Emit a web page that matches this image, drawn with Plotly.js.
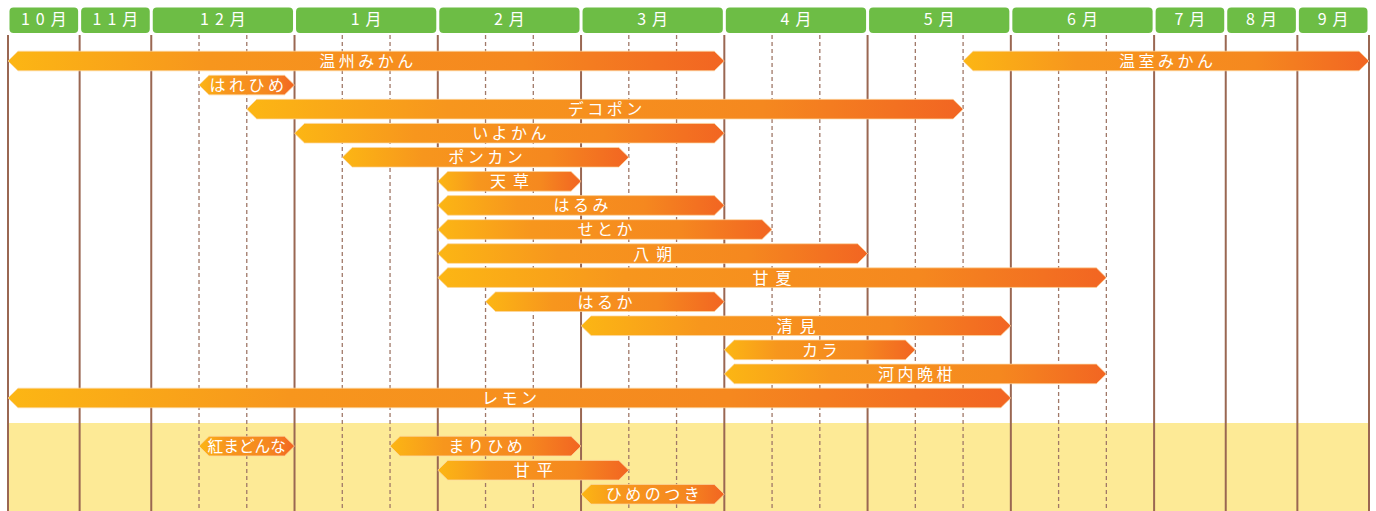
<!DOCTYPE html>
<html>
<head>
<meta charset="utf-8">
<script src="https://cdn.plot.ly/plotly-3.0.1.min.js"></script>
<style>html,body{margin:0;padding:0;background:#fff;}#chart{width:1376px;height:511px;}</style>
</head>
<body>
<div id="chart"></div>
<script>
// ---- data ----
const months = ['10月','11月','12月','1月','2月','3月','4月','5月','6月','7月','8月','9月'];
const monthSplit = [false,false,true,true,true,true,true,true,true,false,false,false]; // divided into 上・中・下旬
const varieties = ['温州みかん','温室みかん','はれひめ','デコポン','いよかん','ポンカン','天草','はるみ','せとか','八朔','甘夏','はるか','清見','カラ','河内晩柑','レモン','紅まどんな','まりひめ','甘平','ひめのつき'];
const fromPeriod = ['10月','5月下','12月中','12月下','1月上','1月中','2月上','2月上','2月上','2月上','2月上','2月中','3月上','4月上','4月上','10月','12月中','1月下','2月上','3月上'];
const toPeriod   = ['3月下','9月','12月下','5月中','3月下','3月上','2月下','3月下','4月上','4月下','6月中','3月下','5月下','5月上','6月中','5月下','12月下','2月下','3月上','3月下'];
const rowIndex   = [0,0,1,2,3,4,5,6,7,8,9,10,11,12,13,14,16,16,17,18];
const newSectionRow = 15; // yellow section starts here

// ---- scale ----
const NARROW = 3, PART = 2;
const pStart = {}, pEnd = {}, solid = [], dashed = [], mStart = [], mEnd = [];
let cx = 0;
months.forEach((m, i) => {
  solid.push(cx); mStart.push(cx);
  if (monthSplit[i]) {
    ['上','中','下'].forEach((p, j) => {
      pStart[m + p] = cx; cx += PART; pEnd[m + p] = cx;
      if (j < 2) dashed.push(cx);
    });
  } else {
    pStart[m] = cx; cx += NARROW; pEnd[m] = cx;
  }
  mEnd.push(cx);
});
solid.push(cx);
const total = cx;

const W = 1376, H = 511;
const pxPerX = 1361 / total;
const xMin = -8 / pxPerX, xMax = xMin + W / pxPerX;
const rowPx = 24.07, row0Px = 61;
const yTop = -row0Px / rowPx, yBot = (H - row0Px) / rowPx;
const tip = 10 / pxPerX, half = 9.8 / rowPx;
const headTop = (7.5 - row0Px) / rowPx, headBot = (33 - row0Px) / rowPx;
const lineTop = (35 - row0Px) / rowPx;
const textDrop = 2 / rowPx;

const FONT = '"Noto Sans CJK JP", "Noto Sans", sans-serif';
const traces = [];
const grad = [[0,'#fcb614'],[0.28,'#f7961d'],[0.72,'#f5881f'],[1,'#f26522']];
const cxs = [], barPx = [];
varieties.forEach((v, i) => {
  const x0 = pStart[fromPeriod[i]], x1 = pEnd[toPeriod[i]], r = rowIndex[i];
  cxs.push((x0 + x1) / 2);
  barPx.push((x1 - x0) * pxPerX);
  traces.push({
    type: 'scatter', mode: 'lines',
    x: [x0, x0 + tip, x1 - tip, x1, x1 - tip, x0 + tip, x0],
    y: [r, r - half, r - half, r, r + half, r + half, r],
    fill: 'toself',
    fillgradient: {type: 'horizontal', colorscale: grad},
    line: {color: 'rgba(252,214,160,0.9)', width: 0.8},
    hoverinfo: 'skip'
  });
});
traces.push({
  type: 'scatter', mode: 'text', x: cxs, y: rowIndex.map(r => r + textDrop), text: varieties,
  textposition: 'middle center',
  textfont: {family: FONT, size: 16, color: '#ffffff'},
  hoverinfo: 'skip', name: 'bars'
});
traces.push({
  type: 'scatter', mode: 'text',
  x: mStart.map((s, i) => (s + mEnd[i]) / 2),
  y: months.map(() => (headTop + headBot) / 2 + textDrop * 0.6),
  text: months, textposition: 'middle center',
  textfont: {family: FONT, size: 16, color: '#ffffff'},
  hoverinfo: 'skip', name: 'head'
});

const shapes = [];
shapes.push({type: 'rect', layer: 'below', xref: 'x', yref: 'y', x0: 0, x1: total, y0: newSectionRow + 0.04, y1: yBot + 1, fillcolor: '#fdea96', line: {width: 0}});
solid.forEach(x => shapes.push({type: 'line', layer: 'below', x0: x, x1: x, y0: lineTop, y1: yBot + 1, line: {color: '#9a6752', width: 2}}));
dashed.forEach(x => shapes.push({type: 'line', layer: 'below', x0: x, x1: x, y0: lineTop, y1: yBot + 1, line: {color: '#a07868', width: 1.3, dash: '4px,3px'}}));
const gap = 1.5 / pxPerX, rx = 4 / pxPerX, ry = 4 / rowPx;
mStart.forEach((s, i) => {
  const a = s + gap, b = mEnd[i] - gap, t = headTop, u = headBot;
  const path = `M ${a + rx},${t} L ${b - rx},${t} Q ${b},${t} ${b},${t + ry} L ${b},${u - ry} Q ${b},${u} ${b - rx},${u} L ${a + rx},${u} Q ${a},${u} ${a},${u - ry} L ${a},${t + ry} Q ${a},${t} ${a + rx},${t} Z`;
  shapes.push({type: 'path', layer: 'below', path: path, fillcolor: '#6dbd45', line: {width: 0}});
});

const layout = {
  width: W, height: H,
  margin: {l: 0, r: 0, t: 0, b: 0, pad: 0},
  paper_bgcolor: '#ffffff', plot_bgcolor: '#ffffff',
  showlegend: false, hovermode: false,
  xaxis: {range: [xMin, xMax], visible: false, fixedrange: true},
  yaxis: {range: [yBot, yTop], visible: false, fixedrange: true},
  shapes: shapes
};
Plotly.newPlot('chart', traces, layout, {displayModeBar: false, staticPlot: true}).then(gd => {
  // widen the tracking of labels like the original artwork, fitting short bars
  const traceEls = gd.querySelectorAll('.scatterlayer .trace');
  const nBars = varieties.length;
  const kanjiPair = /^[\u4e00-\u9fff]{2}$/;
  traceEls.forEach((el, k) => {
    if (k < nBars) return;
    el.querySelectorAll('.textpoint text').forEach((t, j) => {
      let ls = k === nBars ? 3.5 : 6;
      if (k === nBars) {
        if (kanjiPair.test(varieties[j])) ls = 7;
        const n = varieties[j].length;
        const avail = barPx[j] - 17;
        let natural = t.getComputedTextLength();
        if (natural > avail) {
          const fs = Math.max(12, 16 * avail / natural);
          t.style.fontSize = fs + 'px';
          natural = natural * fs / 16;
        }
        ls = Math.max(0, Math.min(ls, (avail - natural) / n));
      }
      t.style.letterSpacing = ls + 'px';
      const x = parseFloat(t.getAttribute('x'));
      t.setAttribute('x', x + ls / 2);
    });
  });
});
</script>
</body>
</html>
